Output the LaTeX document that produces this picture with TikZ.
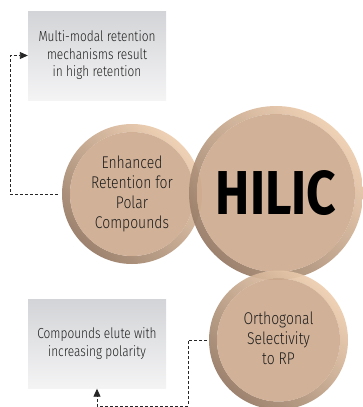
\documentclass[tikz,border=0pt]{standalone}
\usepackage{fontspec}
\setmainfont{Fira Sans}[UprightFont=* Light, BoldFont=* Bold]
\usetikzlibrary{arrows.meta}
\definecolor{discfill}{RGB}{206,171,143}
\definecolor{ringlight}{RGB}{238,206,176}
\definecolor{ringmid}{RGB}{210,176,148}
\definecolor{ringdark}{RGB}{150,122,100}
\definecolor{boxtop}{RGB}{211,212,215}
\definecolor{boxbot}{RGB}{244,244,245}
\definecolor{txt}{RGB}{30,30,30}
\newcommand{\tandisc}[2]{%
  \shade[even odd rule, fill opacity=0.93, left color=ringdark, middle color=ringmid, right color=ringlight, shading angle=135]
    (#1) circle[radius=#2] (#1) circle[radius=#2-8];
  \fill[discfill, fill opacity=0.93] (#1) circle[radius=#2-8];}
\tikzset{
  disctext/.style={circle, inner sep=0pt, text=txt, align=center},
  infobox/.style={rectangle, inner sep=0pt, minimum width=138pt, minimum height=89pt,
    top color=boxtop, bottom color=boxbot, text=txt},
  conn/.style={draw=black!85, line width=0.9pt, dash pattern=on 3pt off 2pt},
  tip/.style={-{Triangle[length=8pt,width=7pt]}}
}
\begin{document}
\begin{tikzpicture}[x=1pt,y=-1pt]
\useasboundingbox (0,0) rectangle (363,407);
% boxes
\node[infobox] (b1) at (97,55.5) {\raisebox{-2pt}{\fontsize{14.5}{17.5}\selectfont\scalebox{0.82}[1]{\begin{tabular}{@{}c@{}}Multi-modal retention\\mechanisms result\\in high retention\end{tabular}}}};
\node[infobox] (b2) at (97,344) {\fontsize{14.5}{17.5}\selectfont\scalebox{0.82}[1]{\begin{tabular}{@{}c@{}}Compounds elute with\\increasing polarity\end{tabular}}};
% discs
\tandisc{132,194}{70}
\tandisc{276,193}{87}
\tandisc{278.5,340}{69.5}
\node[disctext, minimum size=140pt] (enh) at (132,194) {\fontsize{17}{20}\selectfont\scalebox{0.82}[1]{\begin{tabular}{@{}c@{}}Enhanced\\Retention for\\Polar\\Compounds\end{tabular}}};
\node[disctext, minimum size=174pt] (hilic) at (276,193) {\fontsize{62}{62}\selectfont\bfseries\color{black}\scalebox{0.83}[1]{HILIC}};
\node[disctext, minimum size=139pt] (orth) at (278.5,340) {\fontsize{17}{20}\selectfont\scalebox{0.82}[1]{\begin{tabular}{@{}c@{}}Orthogonal\\Selectivity\\to RP\end{tabular}}};
% connectors
\coordinate (c1) at (10,194);
\coordinate (c2) at (188,406);
\draw[conn, tip, shorten <=4pt] (enh.west) -- (c1) |- (b1.west);
\draw[conn, tip, shorten <=2pt] (orth.west) -| (c2) -| (b2.south);
\end{tikzpicture}
\end{document}
